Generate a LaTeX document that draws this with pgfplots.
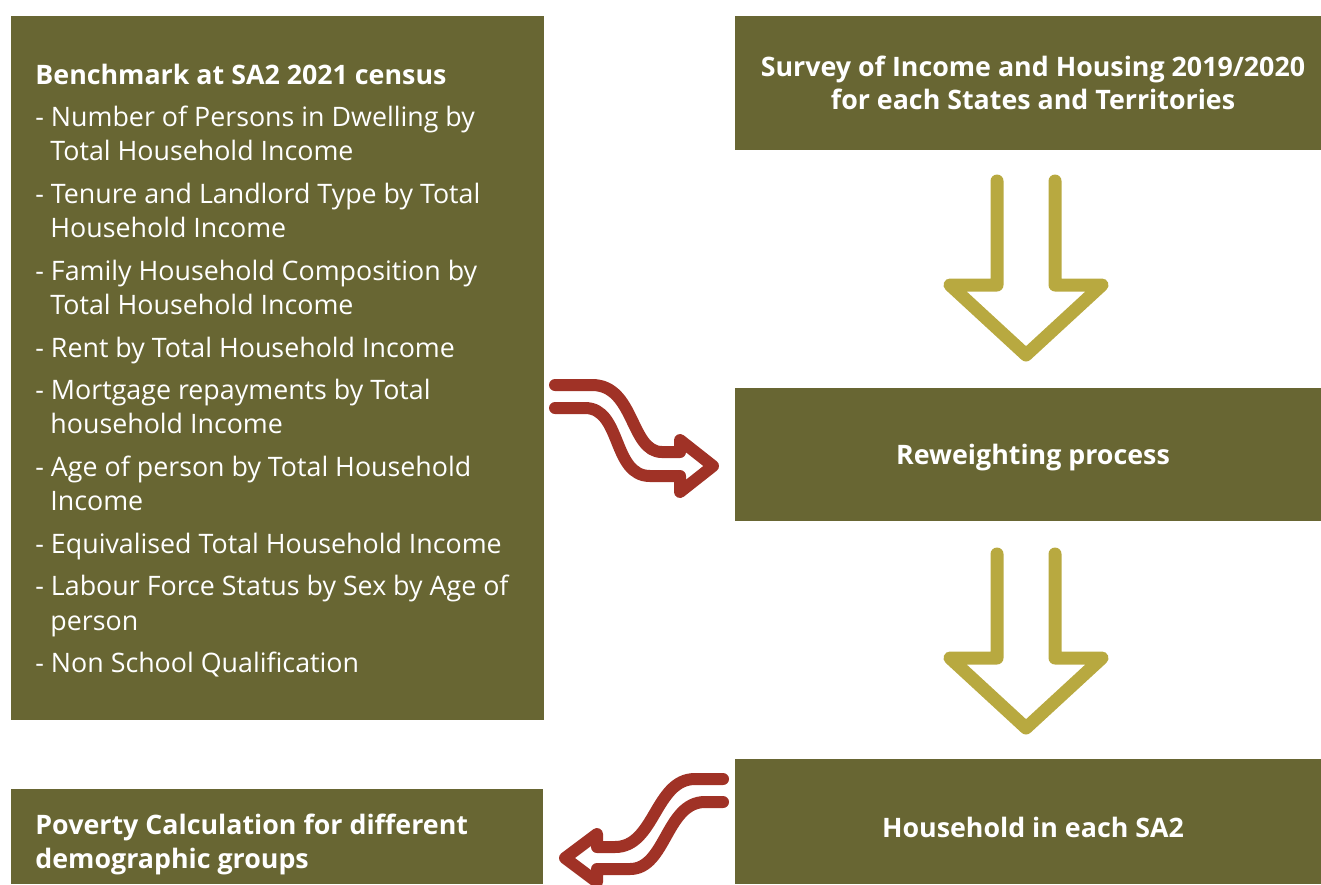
\documentclass[border=0pt]{standalone}
\usepackage{pgfplots}
\pgfplotsset{compat=1.18}
\usepackage{fontspec}
\setmainfont{Open Sans}
\definecolor{boxol}{RGB}{104,102,51}
\definecolor{arry}{RGB}{184,169,64}
\definecolor{arrr}{RGB}{160,50,38}
\begin{document}
\begin{tikzpicture}
\begin{axis}[
  width=660.5pt, height=442pt, scale only axis, hide axis,
  xmin=0, xmax=1321, ymin=0, ymax=884, y dir=reverse,
  clip=false,
]
% boxes
\addplot[fill=boxol, draw=none] coordinates {(11,16)(544,16)(544,720)(11,720)} -- cycle;
\addplot[fill=boxol, draw=none] coordinates {(735,16)(1321,16)(1321,150)(735,150)} -- cycle;
\addplot[fill=boxol, draw=none] coordinates {(735,388)(1321,388)(1321,521)(735,521)} -- cycle;
\addplot[fill=boxol, draw=none] coordinates {(735,759)(1321,759)(1321,884)(735,884)} -- cycle;
\addplot[fill=boxol, draw=none] coordinates {(11,789)(543,789)(543,884)(11,884)} -- cycle;
% yellow arrows
\addplot[arry, line width=6.5pt, line join=round, line cap=round] coordinates {(997,181)(997,285)(950,285)(1026,355)(1102,285)(1055,285)(1055,181)};
\addplot[arry, line width=6.5pt, line join=round, line cap=round] coordinates {(997,554)(997,658)(950,658)(1026,728)(1102,658)(1055,658)(1055,554)};
% red arrows
\draw[arrr, line width=6pt, line join=round, line cap=round]
  (555,385) -- (592,385) .. controls (635,385) and (630,452) .. (662,452) -- (680,452) -- (680,440) -- (713,466) -- (680,492) -- (680,476) -- (650,476) .. controls (612,476) and (622,408) .. (585,408) -- (555,408);
\draw[arrr, line width=6pt, line join=round, line cap=round]
  (723,779) -- (695,779) .. controls (655,779) and (655,847) .. (615,847) -- (597,847) -- (597,834) -- (565,858) -- (597,882) -- (597,869) -- (630,869) .. controls (666,869) and (666,802) .. (705,802) -- (723,802);
% text
\begin{scope}[every node/.style={text=white, font=\fontsize{13.4pt}{16pt}\selectfont, inner sep=0pt}]
\node[anchor=base west, font=\fontsize{13.4pt}{16pt}\selectfont\bfseries] at (35,84) {Benchmark at SA2 2021 census};
\node[anchor=base west] at (35,126) {- Number of Persons in Dwelling by};
\node[anchor=base west] at (50,160) {Total Household Income};
\node[anchor=base west] at (35,203) {- Tenure and Landlord Type by Total};
\node[anchor=base west] at (50,237) {Household Income};
\node[anchor=base west] at (35,280) {- Family Household Composition by};
\node[anchor=base west] at (50,314) {Total Household Income};
\node[anchor=base west] at (35,357) {- Rent by Total Household Income};
\node[anchor=base west] at (35,399) {- Mortgage repayments by Total};
\node[anchor=base west] at (50,433) {household Income};
\node[anchor=base west] at (35,476) {- Age of person by Total Household};
\node[anchor=base west] at (50,510) {Income};
\node[anchor=base west] at (35,553) {- Equivalised Total Household Income};
\node[anchor=base west] at (35,595) {- Labour Force Status by Sex by Age of};
\node[anchor=base west] at (50,630) {person};
\node[anchor=base west] at (35,672) {- Non School Qualification};
\node[anchor=base, font=\fontsize{13.4pt}{16pt}\selectfont\bfseries] at (1033,76) {Survey of Income and Housing 2019/2020};
\node[anchor=base, font=\fontsize{13.4pt}{16pt}\selectfont\bfseries] at (1033,109) {for each States and Territories};
\node[anchor=base, font=\fontsize{13.4pt}{16pt}\selectfont\bfseries] at (1033,464) {Reweighting process};
\node[anchor=base, font=\fontsize{13.4pt}{16pt}\selectfont\bfseries] at (1033,837) {Household in each SA2};
\node[anchor=base west, font=\fontsize{13.4pt}{16pt}\selectfont\bfseries] at (35,834) {Poverty Calculation for different};
\node[anchor=base west, font=\fontsize{13.4pt}{16pt}\selectfont\bfseries] at (35,868) {demographic groups};
\end{scope}
\end{axis}
\pgfresetboundingbox
\path (0,0) rectangle (660.5pt,442pt);
\end{tikzpicture}
\end{document}
